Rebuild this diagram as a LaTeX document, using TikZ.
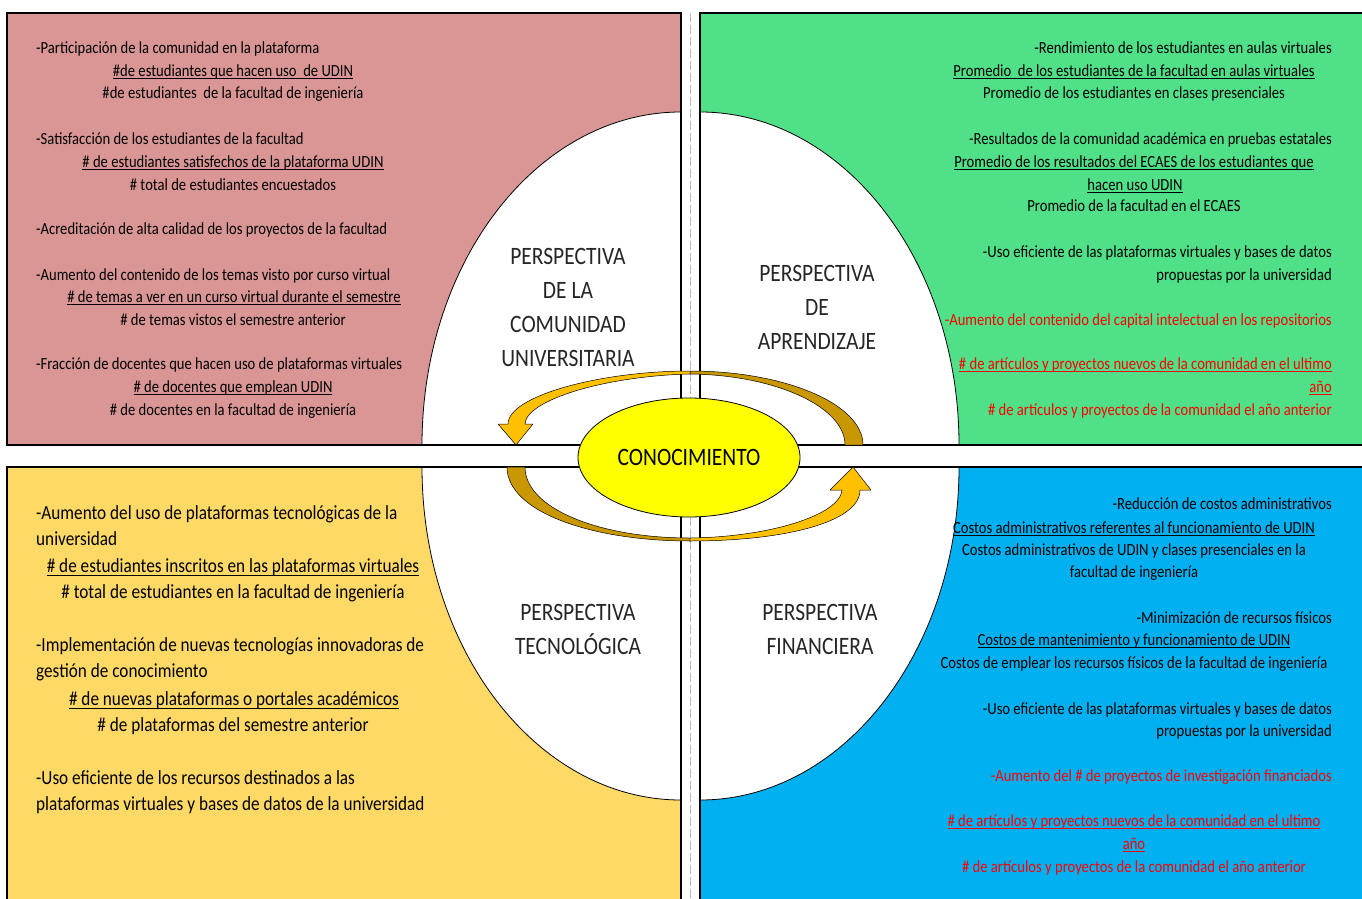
\documentclass[tikz,border=0pt]{standalone}
\usepackage{fontspec}
\setmainfont{Carlito}[FakeStretch=0.86]
\usetikzlibrary{shapes.geometric}
\definecolor{quadpink}{HTML}{D99694}
\definecolor{quadgreen}{HTML}{50E088}
\definecolor{quadyellow}{HTML}{FFD966}
\definecolor{quadblue}{HTML}{00B0F0}
\definecolor{coreyellow}{HTML}{FFFF00}
\definecolor{arrowlight}{HTML}{FFC000}
\definecolor{arrowdark}{HTML}{C99700}
\definecolor{alert}{HTML}{FF0000}
\definecolor{labelgray}{HTML}{262626}

% numerator of an indicator ratio: text with a bar just under the baseline
\newcommand\barline[1]{\leavevmode\setbox0\hbox{#1}%
  \rlap{\raisebox{-0.2em}{\rule{\wd0}{0.065em}}}\box0}

\begin{document}
\begin{tikzpicture}[x=1pt,y=-1pt,
  quadrant/.style={draw=black, line width=1.1pt},
  rim/.style={draw=black, line width=0.8pt},
  band/.style={gray!55, line width=0.8pt, dash pattern=on 9pt off 3pt},
  ribbon/.style={draw=black, line width=0.5pt, line join=round},
  txt/.style={inner sep=0pt, font=\fontsize{17}{20}\selectfont},
  big/.style={inner sep=0pt, font=\fontsize{20}{24}\selectfont},
  lft/.style={anchor=base west},
  rgt/.style={anchor=base east},
  ctr/.style={anchor=base},
  hot/.style={text=alert},
  persp/.style={inner sep=0pt, align=center, text=labelgray, font=\fontsize{25}{34}\selectfont}
]
\useasboundingbox (0,0) rectangle (1362,899);
\fill[white] (0,0) rectangle (1362,899);

% four quadrants, each with a quarter of the central white ellipse
\foreach \xa/\ya/\xb/\yb/\cx/\cy/\col in {
    7/13/681/445/681/445/quadpink,
    700/13/1372/445/700/445/quadgreen,
    7/467/681/909/681/467/quadyellow,
    700/467/1372/909/700/467/quadblue} {
  \begin{scope}
    \clip (\xa,\ya) rectangle (\xb,\yb);
    \fill[\col] (\xa,\ya) rectangle (\xb,\yb);
    \filldraw[fill=white, rim] (\cx,\cy) ellipse[x radius=259, y radius=333];
  \end{scope}
  \draw[quadrant] (\xa,\ya) rectangle (\xb,\yb);
}

% dashed divider in the vertical gap
\draw[band] (690.5,13) -- (690.5,899);

% upper curved arrow (right to left)
\filldraw[fill=arrowdark, ribbon] (690,371) .. controls (785,371) and (863,404) .. (863,445)
  -- (845,445) .. controls (845,407) and (776,375) .. (690,374) -- cycle;
\filldraw[fill=arrowlight, ribbon] (690,371) .. controls (600,371) and (508,396) .. (508,424)
  -- (498,424) -- (516,445) -- (533,424) -- (525,424)
  .. controls (526,400) and (605,376) .. (690,374) -- cycle;

% lower curved arrow (left to right)
\filldraw[fill=arrowdark, ribbon] (507,467) .. controls (507,512) and (592,541) .. (690,541)
  -- (690,538) .. controls (598,538) and (525,508) .. (525,467) -- cycle;
\filldraw[fill=arrowlight, ribbon] (690,541) .. controls (785,541) and (860,522) .. (860,490)
  -- (871,490) -- (853,467) -- (830,490) -- (842,490)
  .. controls (840,515) and (770,537) .. (690,538) -- cycle;

% centre
\node[ellipse, draw=black, line width=0.8pt, fill=coreyellow, minimum width=222pt,
      minimum height=119pt, inner sep=0pt, font=\fontsize{25}{30}\selectfont] (core) at (689,457.5) {CONOCIMIENTO};

% perspective titles
\node[persp] (lblcom) at (568,307) {PERSPECTIVA\\DE LA\\COMUNIDAD\\UNIVERSITARIA};
\node[persp] (lblapr) at (817,307) {PERSPECTIVA\\DE\\APRENDIZAJE};
\node[persp] (lbltec) at (578,629) {PERSPECTIVA\\TECNOLÓGICA};
\node[persp] (lblfin) at (820,629) {PERSPECTIVA\\FINANCIERA};

% community indicators
\node[txt,lft] (tl1) at (36,53) {-Participación de la comunidad en la plataforma};
\node[txt,ctr] (tl2) at (233,76) {\barline{\#de estudiantes que hacen uso\ \ de UDIN}};
\node[txt,ctr] (tl3) at (233,99) {\#de estudiantes\ \ de la facultad de ingeniería};
\node[txt,lft] (tl4) at (36,144) {-Satisfacción de los estudiantes de la facultad};
\node[txt,ctr] (tl5) at (233,167) {\barline{\# de estudiantes satisfechos de la plataforma UDIN}};
\node[txt,ctr] (tl6) at (233,190) {\# total de estudiantes encuestados};
\node[txt,lft] (tl7) at (36,234) {-Acreditación de alta calidad de los proyectos de la facultad};
\node[txt,lft] (tl8) at (36,280) {-Aumento del contenido de los temas visto por curso virtual};
\node[txt,ctr] (tl9) at (234,302) {\barline{\# de temas a ver en un curso virtual durante el semestre}};
\node[txt,ctr] (tl10) at (233,325) {\# de temas vistos el semestre anterior};
\node[txt,lft] (tl11) at (36,369) {-Fracción de docentes que hacen uso de plataformas virtuales};
\node[txt,ctr] (tl12) at (233,392) {\barline{\# de docentes que emplean UDIN}};
\node[txt,ctr] (tl13) at (233,415) {\# de docentes en la facultad de ingeniería};

% learning indicators
\node[txt,rgt] (tr1) at (1332,53) {-Rendimiento de los estudiantes en aulas virtuales};
\node[txt,ctr] (tr2) at (1134,76) {\barline{Promedio\ \ de los estudiantes de la facultad en aulas virtuales}};
\node[txt,ctr] (tr3) at (1134,99) {Promedio de los estudiantes en clases presenciales};
\node[txt,rgt] (tr4) at (1332,144) {-Resultados de la comunidad académica en pruebas estatales};
\node[txt,ctr] (tr5) at (1134,167) {\barline{Promedio de los resultados del ECAES de los estudiantes que}};
\node[txt,ctr] (tr6) at (1135,190) {\barline{hacen uso UDIN}};
\node[txt,ctr] (tr7) at (1134,211) {Promedio de la facultad en el ECAES};
\node[txt,rgt] (tr8) at (1332,257) {-Uso eficiente de las plataformas virtuales y bases de datos};
\node[txt,rgt] (tr9) at (1332,280) {propuestas por la universidad};
\node[txt,rgt,hot] (tr10) at (1332,325) {-Aumento del contenido del capital intelectual en los repositorios};
\node[txt,rgt,hot] (tr11) at (1332,369) {\barline{\# de artículos y proyectos nuevos de la comunidad en el ultimo}};
\node[txt,rgt,hot] (tr12) at (1332,392) {\barline{año}};
\node[txt,rgt,hot] (tr13) at (1332,415) {\# de artículos y proyectos de la comunidad el año anterior};

% technology indicators
\node[big,lft] (bl1) at (36,519) {-Aumento del uso de plataformas tecnológicas de la};
\node[big,lft] (bl2) at (36,545) {universidad};
\node[big,ctr] (bl3) at (233,572) {\barline{\# de estudiantes inscritos en las plataformas virtuales}};
\node[big,ctr] (bl4) at (233,598) {\# total de estudiantes en la facultad de ingeniería};
\node[big,lft] (bl5) at (36,651) {-Implementación de nuevas tecnologías innovadoras de};
\node[big,lft] (bl6) at (36,677) {gestión de conocimiento};
\node[big,ctr] (bl7) at (234,705) {\barline{\# de nuevas plataformas o portales académicos}};
\node[big,ctr] (bl8) at (233,731) {\# de plataformas del semestre anterior};
\node[big,lft] (bl9) at (36,784) {-Uso eficiente de los recursos destinados a las};
\node[big,lft] (bl10) at (36,810) {plataformas virtuales y bases de datos de la universidad};

% financial indicators
\node[txt,rgt] (br1) at (1332,509) {-Reducción de costos administrativos};
\node[txt,ctr] (br2) at (1134,533) {\barline{Costos administrativos referentes al funcionamiento de UDIN}};
\node[txt,ctr] (br3) at (1134,555) {Costos administrativos de UDIN y clases presenciales en la};
\node[txt,ctr] (br4) at (1134,577) {facultad de ingeniería};
\node[txt,rgt] (br5) at (1332,623) {-Minimización de recursos físicos};
\node[txt,ctr] (br6) at (1134,645) {\barline{Costos de mantenimiento y funcionamiento de UDIN}};
\node[txt,ctr] (br7) at (1134,668) {Costos de emplear los recursos físicos de la facultad de ingeniería};
\node[txt,rgt] (br8) at (1332,714) {-Uso eficiente de las plataformas virtuales y bases de datos};
\node[txt,rgt] (br9) at (1332,736) {propuestas por la universidad};
\node[txt,rgt,hot] (br10) at (1332,781) {-Aumento del \# de proyectos de investigación financiados};
\node[txt,ctr,hot] (br11) at (1134,826) {\barline{\# de artículos y proyectos nuevos de la comunidad en el ultimo}};
\node[txt,ctr,hot] (br12) at (1134,849) {\barline{año}};
\node[txt,ctr,hot] (br13) at (1134,872) {\# de artículos y proyectos de la comunidad el año anterior};
\end{tikzpicture}
\end{document}
